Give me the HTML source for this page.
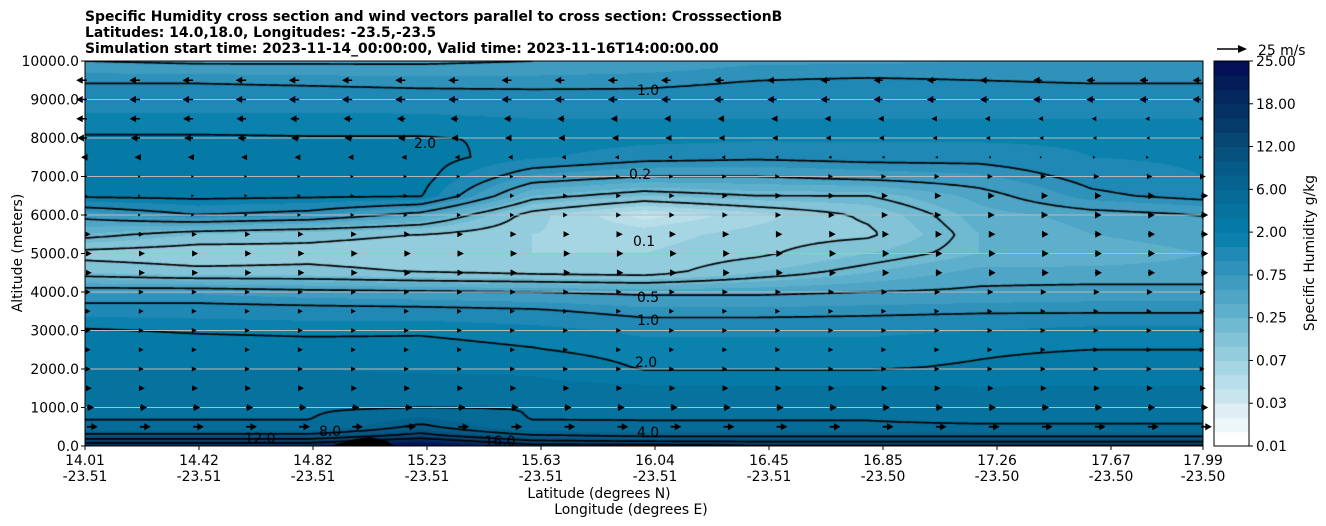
<!DOCTYPE html>
<html><head><meta charset="utf-8">
<style>
body{margin:0;background:#fff;width:1326px;height:526px;overflow:hidden;font-family:"DejaVu Sans","Liberation Sans",sans-serif;}
#wrap{position:relative;width:1326px;height:526px;}
canvas{position:absolute;left:85px;top:61px;}
svg{position:absolute;left:0;top:0;}
text{font-family:"DejaVu Sans","Liberation Sans",sans-serif;font-size:13.9px;fill:#000;}
</style></head>
<body>
<div id="wrap">
<canvas id="cv" width="1118" height="385"></canvas>
<svg id="sv" width="1326" height="526">
  <g font-weight="bold">
    <text x="85" y="21" font-weight="bold">Specific Humidity cross section and wind vectors parallel to cross section: CrosssectionB</text>
    <text x="85" y="37" font-weight="bold">Latitudes: 14.0,18.0, Longitudes: -23.5,-23.5</text>
    <text x="85" y="53" font-weight="bold">Simulation start time: 2023-11-14_00:00:00, Valid time: 2023-11-16T14:00:00.00</text>
  </g>
  <g id="grid"></g>
  <g id="arrows"></g>
  <g id="clabels"></g>
  <polygon points="330,446 355,439 370,437 385,440 395,446" fill="#000"/>
  <rect x="85" y="61" width="1118" height="385" fill="none" stroke="#000" stroke-width="1"/>
  <g id="yticks"></g>
  <g id="xticks"></g>
  <text x="599" y="498" text-anchor="middle">Latitude (degrees N)</text>
  <text x="631" y="514" text-anchor="middle">Longitude (degrees E)</text>
  <text transform="translate(22,253) rotate(-90)" text-anchor="middle">Altitude (meters)</text>
  <g id="cbar"></g>
  <text transform="translate(1314,253) rotate(-90)" text-anchor="middle">Specific Humidity g/kg</text>
  <g>
    <polygon points="1217,48.2 1238,48.2 1238,45 1247,49 1238,53 1238,49.8 1217,49.8" fill="#000"/>
    <text x="1258" y="55">25 m/s</text>
  </g>
</svg>
</div>
<script>
const alts=[0,250,500,750,1000,1500,2000,2500,3000,3500,4000,4500,5000,5500,6000,6500,7000,7500,8000,8500,9000,9500,10000];
const q0=[20,20,20,28,18,18,17,17,17,17,17];
const q250=[10,10,10,14,9,8,8,8,8,8,8];
const q500=[4.3,4.3,4.3,9,4.3,4.1,4.1,4.1,4.1,4.1,4.1];
const q750=[3.9,3.9,3.9,6,3.9,3.95,3.95,3.95,3.8,3.8,3.8];
const q1000=[3.6,3.7,3.8,3.9,3.95,3.95,3.95,3.9,3.5,3.5,3.5];
const q1500=[3.3,3.4,3.4,3.4,3.4,3.3,3.2,3.2,3.1,3.1,3.1];
const q2000=[3.0,3.0,3.0,2.9,2.8,1.95,1.95,1.95,2.1,2.4,2.4];
const q2500=[2.6,2.6,2.5,2.3,2.05,1.7,1.7,1.7,1.9,2.0,2.0];
const q3000=[2.1,1.9,1.8,1.9,1.7,1.4,1.4,1.4,1.5,1.7,1.7];
const q3500=[1.3,1.3,1.25,1.2,1.1,0.85,0.85,0.9,0.95,0.95,0.95];
const q4000=[0.7,0.7,0.6,0.55,0.5,0.45,0.45,0.5,0.55,0.6,0.6];
const q4500=[0.15,0.12,0.12,0.1,0.09,0.08,0.15,0.25,0.4,0.38,0.38];
const q5000=[0.08,0.07,0.08,0.07,0.07,0.07,0.09,0.15,0.25,0.3,0.35];
const q5500=[0.25,0.15,0.12,0.1,0.07,0.06,0.08,0.09,0.25,0.35,0.4];
const q6000=[0.6,1.0,0.8,0.4,0.08,0.035,0.06,0.11,0.3,0.4,0.5];
const q6500=[2.2,2.3,2.2,2.1,0.25,0.15,0.2,0.2,0.4,0.9,1.2];
const q7000=[2.3,2.6,2.6,2.4,0.7,0.5,0.5,0.6,0.7,1.2,1.5];
const q7500=[2.3,2.5,2.5,2.4,1.6,1.2,1.1,1.2,1.2,1.5,1.6];
const q8000=[2.1,2.1,2.05,2.05,1.9,1.7,1.6,1.6,1.6,1.6,1.6];
const q8500=[1.6,1.6,1.6,1.6,1.5,1.5,1.5,1.5,1.5,1.5,1.5];
const q9000=[1.3,1.3,1.3,1.25,1.2,1.15,1.2,1.3,1.3,1.3,1.3];
const q9500=[0.95,0.95,0.9,0.85,0.85,0.9,1.0,1.05,1.0,0.95,0.95];
const q10000=[0.5,0.45,0.45,0.45,0.5,0.55,0.7,0.7,0.75,0.8,0.8];
const qRows=[q0,q250,q500,q750,q1000,q1500,q2000,q2500,q3000,q3500,q4000,q4500,q5000,q5500,q6000,q6500,q7000,q7500,q8000,q8500,q9000,q9500,q10000];
const levels=[0.01,0.015,0.02,0.03,0.04,0.05,0.07,0.1,0.15,0.25,0.35,0.5,0.75,1.0,1.5,2,3,4,6,8,10,12,14,16,18,20,22,25];
const colors=["#ffffff","#edf6f9","#deeef4","#c8e5ed","#b8dee9","#a6d6e3","#93ccdd","#82c3d7","#6fb9d1","#5eafcb","#4ea5c6","#3f9bc0","#2f92bb","#1f88b4","#0a82ad","#067aa6","#06729e","#066b97","#066390","#065a87","#06517e","#064774","#063c6c","#053264","#04285e","#031d59","#021055"];
const lineLevels=[0.1,0.2,0.5,1,2,4,8,12,16];
const yTickVals=[0,1000,2000,3000,4000,5000,6000,7000,8000,9000,10000];
const xLat=["14.01","14.42","14.82","15.23","15.63","16.04","16.45","16.85","17.26","17.67","17.99"];
const xLon=["-23.51","-23.51","-23.51","-23.51","-23.51","-23.51","-23.51","-23.50","-23.50","-23.50","-23.50"];
const cbTicks=["0.01","0.03","0.07","0.25","0.75","2.00","6.00","12.00","18.00","25.00"];
const windAlts=[500,1000,1500,2000,2500,3000,3500,4000,4500,5000,5500,6000,6500,7000,7500,8000,8500,9000,9500];
const uWest=[9,6,4,3,3,3,3,3,4,4,3,0.3,0.3,0.3,-5,-8,-9,-9,-9];
const uEast=[9,6,4,3,3,3,3,4,6,6,6,6,6,4,1,-1,-2,-7,-7];
const nWindCols=22;

const PX=85,PY=61,PW=1118,PH=385;
const Y=a=>PY+PH-a/10000*PH;
const NS="http://www.w3.org/2000/svg";
function mk(tag,attrs,parent){const e=document.createElementNS(NS,tag);for(const k in attrs)e.setAttribute(k,attrs[k]);parent.appendChild(e);return e;}

const nc=qRows[0].length;
function sample(fx,alt){
  let cf=fx*(nc-1);let c=Math.min(Math.floor(cf),nc-2);let tc=cf-c;
  let r=0;while(r<alts.length-2&&alt>alts[r+1])r++;
  let tr=(alt-alts[r])/(alts[r+1]-alts[r]);tr=Math.max(0,Math.min(1,tr));
  const L=v=>Math.log(v);
  const a=L(qRows[r][c])*(1-tc)+L(qRows[r][c+1])*tc;
  const b=L(qRows[r+1][c])*(1-tc)+L(qRows[r+1][c+1])*tc;
  return Math.exp(a*(1-tr)+b*tr);
}
function band(q){let i=0;while(i<colors.length-1&&q>=levels[i+1])i++;return i;}
function hex(h){return [parseInt(h.substr(1,2),16),parseInt(h.substr(3,2),16),parseInt(h.substr(5,2),16)];}
const rgb=colors.map(hex);
const cv=document.getElementById('cv');const ctx=cv.getContext('2d');
const img=ctx.createImageData(PW,PH);
for(let y=0;y<PH;y++){const alt=(PH-y-0.5)/PH*10000;
  for(let x=0;x<PW;x++){const q=sample((x+0.5)/PW,alt);const c=rgb[band(q)];const k=(y*PW+x)*4;
    img.data[k]=c[0];img.data[k+1]=c[1];img.data[k+2]=c[2];img.data[k+3]=255;}}
ctx.putImageData(img,0,0);

const st=3;const gw=Math.ceil(PW/st)+1,gh=Math.ceil(PH/st)+1;
const G=[];for(let j=0;j<gh;j++){G[j]=[];for(let i=0;i<gw;i++){G[j][i]=Math.log(sample(Math.min(i*st,PW)/PW,(PH-Math.min(j*st,PH))/PH*10000));}}
ctx.strokeStyle="#000";ctx.lineWidth=1.7;ctx.lineJoin="round";ctx.lineCap="round";
lineLevels.forEach(lv=>{const L=Math.log(lv);ctx.beginPath();
  for(let j=0;j<gh-1;j++)for(let i=0;i<gw-1;i++){
    const v=[G[j][i],G[j][i+1],G[j+1][i+1],G[j+1][i]];
    const p=[[i,j],[i+1,j],[i+1,j+1],[i,j+1]];
    const pts=[];
    for(let e=0;e<4;e++){const a=v[e],b=v[(e+1)%4];
      if((a<L)!==(b<L)){const t=(L-a)/(b-a);const pa=p[e],pb=p[(e+1)%4];
        pts.push([(pa[0]+(pb[0]-pa[0])*t)*st,(pa[1]+(pb[1]-pa[1])*t)*st]);}}
    for(let k=0;k+1<pts.length;k+=2){ctx.moveTo(pts[k][0],pts[k][1]);ctx.lineTo(pts[k+1][0],pts[k+1][1]);}
  }ctx.stroke();});

const grid=document.getElementById('grid');
yTickVals.forEach(v=>{if(v>0&&v<10000){const l=mk('line',{x1:PX,x2:PX+PW,y1:Y(v),y2:Y(v),stroke:"#b9b9b9","stroke-width":1},grid);
  }});

const ag=document.getElementById('arrows');
const scale=30/25;
windAlts.forEach((a,ri)=>{for(let ci=0;ci<nWindCols;ci++){
  const f=ci/(nWindCols-1);
  const u=uWest[ri]*(1-f)+uEast[ri]*f;
  const x0=PX+2+ci*(PW-4)/(nWindCols-1), y0=Y(a);
  const len=Math.abs(u)*scale, s=Math.sign(u)||1;
  const hl=Math.min(6.5,len*0.8+2), hw=Math.min(3.6,len*0.35+1.3);
  const tip=x0+s*len, hb=tip-s*hl;
  const pts=len>hl?[[x0,y0-0.8],[hb,y0-0.8],[hb,y0-hw],[tip,y0],[hb,y0+hw],[hb,y0+0.8],[x0,y0+0.8]]:[[hb,y0-hw],[tip,y0],[hb,y0+hw]];
  const pg=mk('polygon',{points:pts.map(p=>p[0].toFixed(1)+","+p[1].toFixed(1)).join(" "),fill:"#000"},ag);
  
  
}});

const cl=document.getElementById('clabels');
const labs=[["1.0",648,95],["2.0",646,367],["1.0",648,325],["0.5",648,302],["0.1",644,246],["0.2",640,179],["2.0",425,148],["4.0",648,437],["12.0",260,443],["8.0",330,436],["16.0",500,446]];
labs.forEach(l=>{const t=mk('text',{x:l[1],y:l[2],"text-anchor":"middle","font-size":"11"},cl);t.textContent=l[0];
  });

const yt=document.getElementById('yticks');
yTickVals.forEach(v=>{const y=Y(v);mk('line',{x1:PX-4,x2:PX,y1:y,y2:y,stroke:"#000"},yt);
  const t=mk('text',{x:PX-6,y:y+5,"text-anchor":"end"},yt);t.textContent=v.toFixed(1);
  });
const xt=document.getElementById('xticks');
xLat.forEach((lab,i)=>{const x=i<xLat.length-1?PX+i*114:PX+PW;
  mk('line',{x1:x,x2:x,y1:PY+PH,y2:PY+PH+4,stroke:"#000"},xt);
  const t=mk('text',{x:x,y:465,"text-anchor":"middle"},xt);t.textContent=lab;
  
  const t2=mk('text',{x:x,y:481,"text-anchor":"middle"},xt);t2.textContent=xLon[i];
  });
const cb=document.getElementById('cbar');
const CX=1214,CW=35,CT=61,CH=385,bh=CH/colors.length;
colors.forEach((c,i)=>{const r=mk('rect',{x:CX,y:CT+CH-(i+1)*bh,width:CW,height:bh+0.5,fill:c},cb);
  });
mk('rect',{x:CX,y:CT,width:CW,height:CH,fill:"none",stroke:"#000"},cb);
cbTicks.forEach((lab,i)=>{const y=CT+CH-i*CH/(cbTicks.length-1);
  mk('line',{x1:CX+CW,x2:CX+CW+4,y1:y,y2:y,stroke:"#000"},cb);
  const t=mk('text',{x:CX+CW+7,y:y+5},cb);t.textContent=lab;
  });
</script>
</body></html>
